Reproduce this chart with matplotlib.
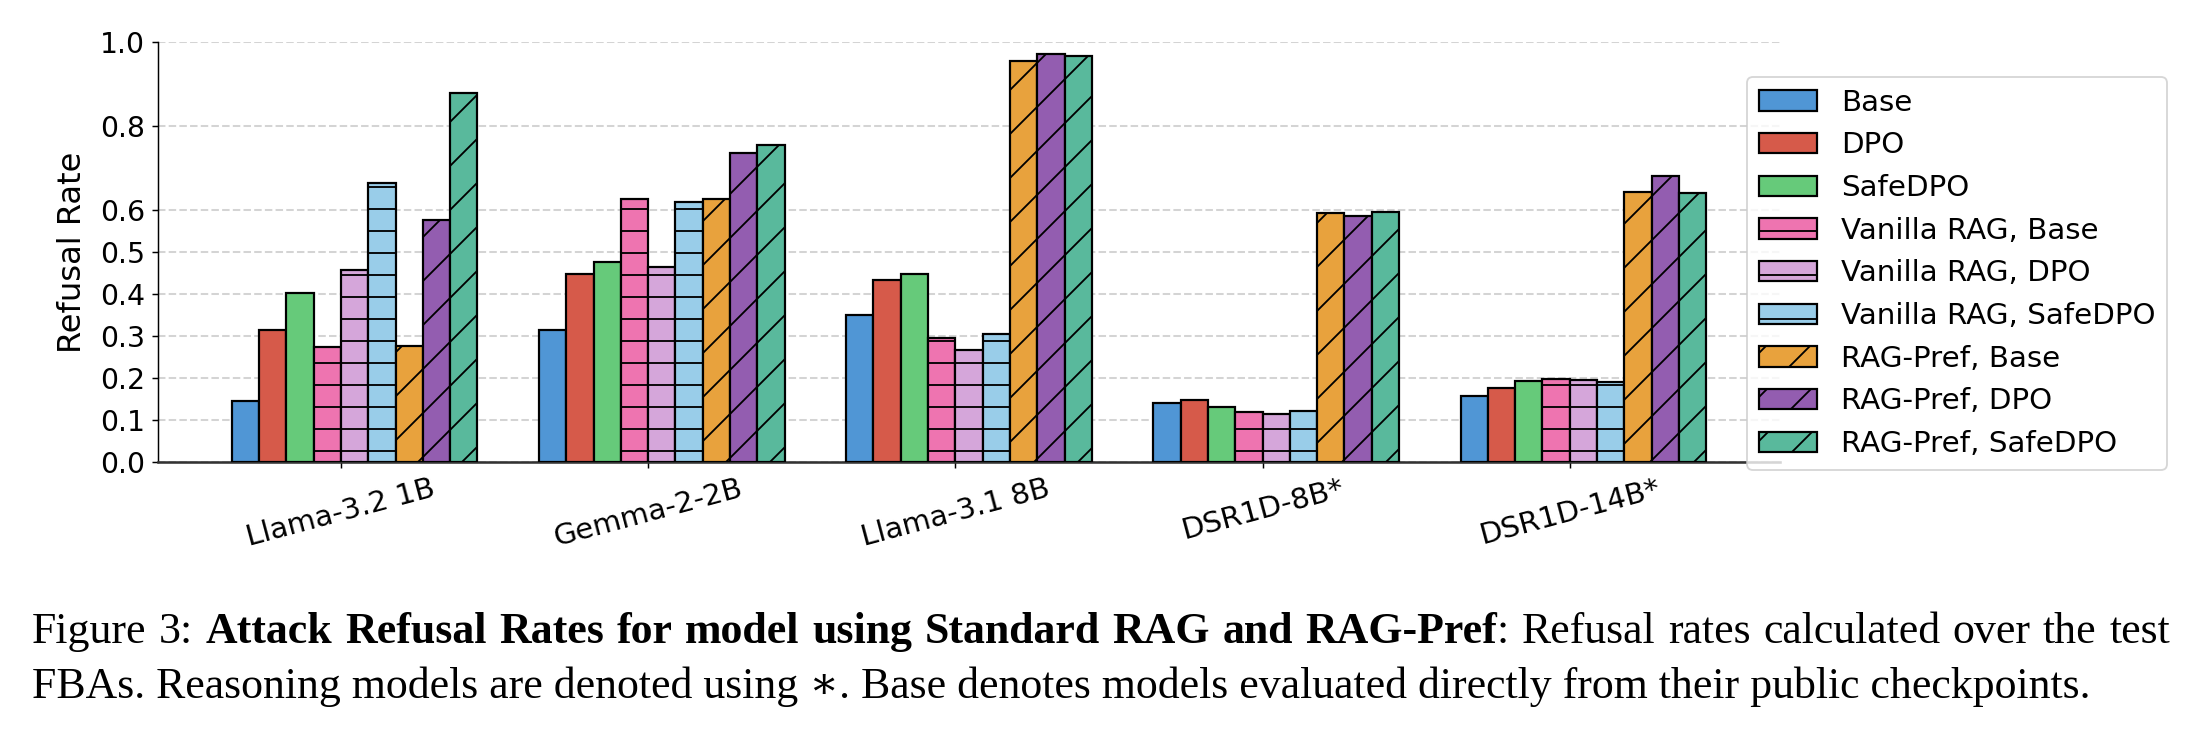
import matplotlib
matplotlib.use('Agg')
import matplotlib.pyplot as plt
import numpy as np

# Data
models = ['Llama-3.2 1B', 'Gemma-2-2B', 'Llama-3.1 8B', 'DSR1D-8B*', 'DSR1D-14B*']
base = [0.145, 0.314, 0.350, 0.141, 0.157]
dpo = [0.314, 0.448, 0.433, 0.148, 0.176]
safedpo = [0.403, 0.475, 0.448, 0.131, 0.192]
vanilla_base = [0.274, 0.626, 0.294, 0.118, 0.196]
vanilla_dpo = [0.457, 0.465, 0.266, 0.114, 0.194]
vanilla_safedpo = [0.664, 0.619, 0.304, 0.122, 0.191]
pref_base = [0.276, 0.627, 0.955, 0.592, 0.644]
pref_dpo = [0.576, 0.737, 0.971, 0.586, 0.681]
pref_safedpo = [0.880, 0.754, 0.968, 0.595, 0.641]

labels = ['Base', 'DPO', 'SafeDPO',
          'Vanilla RAG, Base', 'Vanilla RAG, DPO', 'Vanilla RAG, SafeDPO',
          'RAG-Pref, Base', 'RAG-Pref, DPO', 'RAG-Pref, SafeDPO']
series = [base, dpo, safedpo, vanilla_base, vanilla_dpo, vanilla_safedpo,
          pref_base, pref_dpo, pref_safedpo]
colors = ['#5096d5', '#d65a4a', '#66ca7a', '#ee74b0', '#d5a6da', '#99cde9',
          '#e8a23d', '#935db0', '#59b99c']
hatches = ['', '', '', '-', '-', '-', '/', '/', '/']
yticks = [0.0, 0.1, 0.2, 0.3, 0.4, 0.5, 0.6, 0.8, 1.0]

W, H, DPI = 2212, 735, 132
fig = plt.figure(figsize=(W / DPI, H / DPI), dpi=DPI)
ax = fig.add_axes([158 / W, 1 - 461.7 / H, (1780 - 158) / W, (461.7 - 42.3) / H])

x = np.arange(len(models))
bar_width = 0.8 / len(series)
for i, vals in enumerate(series):
    ax.bar(x + (i - 4) * bar_width, vals, width=bar_width, align='edge',
           color=colors[i], edgecolor='black', linewidth=1.2,
           hatch=hatches[i], label=labels[i], zorder=3)

ax.set_ylim(0, 1.0)
ax.set_yticks(yticks)
ax.tick_params(axis='y', labelsize=15.5)
ax.set_xticks(x, models, rotation=15, ha='center', fontsize=16)
ax.set_ylabel('Refusal Rate', fontsize=17.5)
ax.yaxis.set_label_coords(-0.043, 0.5)
ax.grid(True, axis='y', linestyle='--', color='#d4d4d4', linewidth=1.1, zorder=0)
ax.set_axisbelow(True)
ax.spines['top'].set_visible(False)
ax.spines['right'].set_visible(False)
ax.spines['bottom'].set_color('#333333')
ax.spines['bottom'].set_linewidth(1.4)

ax.legend(loc='upper left', bbox_to_anchor=(1747 / W, 1 - 77 / H),
          bbox_transform=fig.transFigure, borderaxespad=0, fontsize=16)

# Caption below the chart, serif like the paper
serif = ['Liberation Serif', 'DejaVu Serif']
renderer = fig.canvas.get_renderer()


def text_width(s, size, weight='normal'):
    t = fig.text(0, 0, s + '|', fontsize=size, family=serif, weight=weight)
    bar = fig.text(0, 0, '|', fontsize=size, family=serif, weight=weight)
    w = t.get_window_extent(renderer).width - bar.get_window_extent(renderer).width
    t.remove()
    bar.remove()
    return w


line2 = 'FBAs. Reasoning models are denoted using \u2217. Base denotes models evaluated directly from their public checkpoints.'
size = 18.0 * 2061 / text_width(line2, 18.0)
fig.text(32 / W, 1 - 698 / H, line2, fontsize=size, family=serif, va='baseline')

line1 = [[('Figure', 'normal')], [('3:', 'normal')],
         [('Attack', 'bold')], [('Refusal', 'bold')], [('Rates', 'bold')],
         [('for', 'bold')], [('model', 'bold')], [('using', 'bold')],
         [('Standard', 'bold')], [('RAG', 'bold')], [('and', 'bold')],
         [('RAG-Pref', 'bold'), (':', 'normal')],
         [('Refusal', 'normal')], [('rates', 'normal')], [('calculated', 'normal')],
         [('over', 'normal')], [('the', 'normal')], [('test', 'normal')]]
word_w = [sum(text_width(s, size, wt) for s, wt in word) for word in line1]
gap = (2138 - sum(word_w)) / (len(line1) - 1)
xpos = 32.0
for word, ww in zip(line1, word_w):
    xs = xpos
    for s, wt in word:
        fig.text(xs / W, 1 - 643 / H, s, fontsize=size, family=serif, weight=wt, va='baseline')
        xs += text_width(s, size, wt)
    xpos += ww + gap

fig.savefig('out.png', dpi=DPI)
